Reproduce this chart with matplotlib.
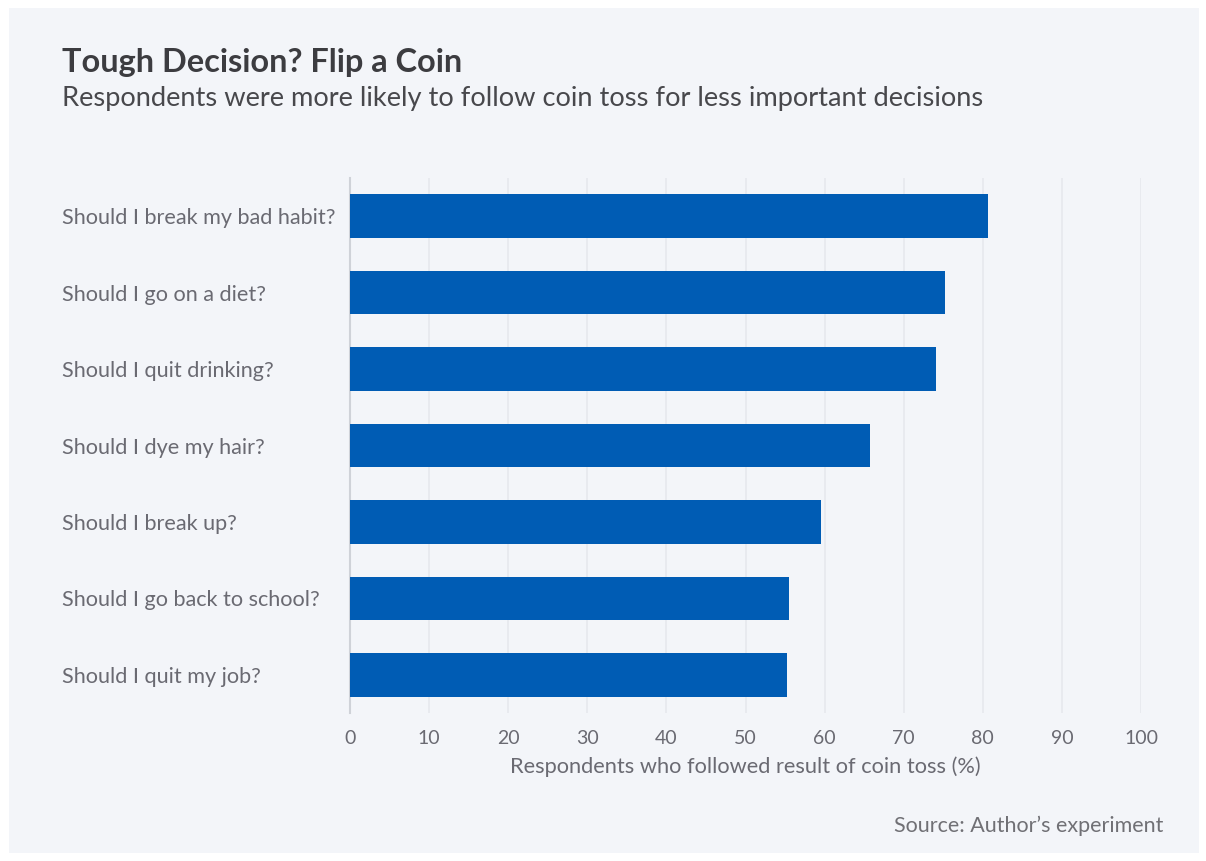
import matplotlib.pyplot as plt
from matplotlib.patches import Rectangle

plt.rcParams['font.family'] = ['Lato', 'DejaVu Sans']

questions = ["Should I break my bad habit?", "Should I go on a diet?", "Should I quit drinking?",
             "Should I dye my hair?", "Should I break up?", "Should I go back to school?",
             "Should I quit my job?"]
followed = [80.7, 75.2, 74.1, 65.8, 59.5, 55.5, 55.2]
xticks = [0, 10, 20, 30, 40, 50, 60, 70, 80, 90, 100]

bg = '#f3f5f9'
W, H = 1206, 861
fig = plt.figure(figsize=(W / 100, H / 100), dpi=100, facecolor='white')
fig.add_artist(Rectangle((9 / W, 1 - 853 / H), (1199 - 9) / W, (853 - 8) / H,
                         transform=fig.transFigure, facecolor=bg, edgecolor='none', zorder=-10))

ax = fig.add_axes([350 / W, 1 - 713 / H, (1141 - 350) / W, (713 - 178) / H])
ax.patch.set_alpha(0)

ypos = list(range(len(questions)))
ax.barh(ypos, followed, height=0.57, color='#005cb4', zorder=3)
ax.set_ylim(len(questions) - 0.5, -0.5)
ax.set_xlim(0, 100)

ax.set_xticks(xticks)
ax.set_xticklabels([str(t) for t in xticks])
ax.grid(axis='x', color='#e6e8ed', linewidth=1.2, zorder=0)
ax.set_axisbelow(True)

for s in ['top', 'right', 'bottom']:
    ax.spines[s].set_visible(False)
ax.spines['left'].set_color('#cfd2d8')
ax.spines['left'].set_linewidth(1.5)

ax.set_yticks(ypos)
ax.set_yticklabels(questions)
ax.tick_params(axis='y', length=0, pad=(350 - 62) * 0.72, labelsize=15.6, labelcolor='#6a6a72')
for lab in ax.get_yticklabels():
    lab.set_ha('left')
ax.tick_params(axis='x', length=0, pad=12, labelsize=14, labelcolor='#6a6a72')
ax.set_xlabel("Respondents who followed result of coin toss (%)", fontsize=15.7,
              color='#6a6a72', labelpad=7)

fig.text(62 / W, 1 - 72 / H, "Tough Decision? Flip a Coin", fontsize=23.4, fontweight='bold',
         color='#3c3c40', ha='left', va='baseline')
fig.text(62 / W, 1 - 106 / H, "Respondents were more likely to follow coin toss for less important decisions",
         fontsize=19.6, color='#48484c', ha='left', va='baseline')
fig.text(1163 / W, 1 - 832 / H, "Source: Author\u2019s experiment", fontsize=15.5,
         color='#707075', ha='right', va='baseline')

fig.savefig('out.png', dpi=100, facecolor='white')
